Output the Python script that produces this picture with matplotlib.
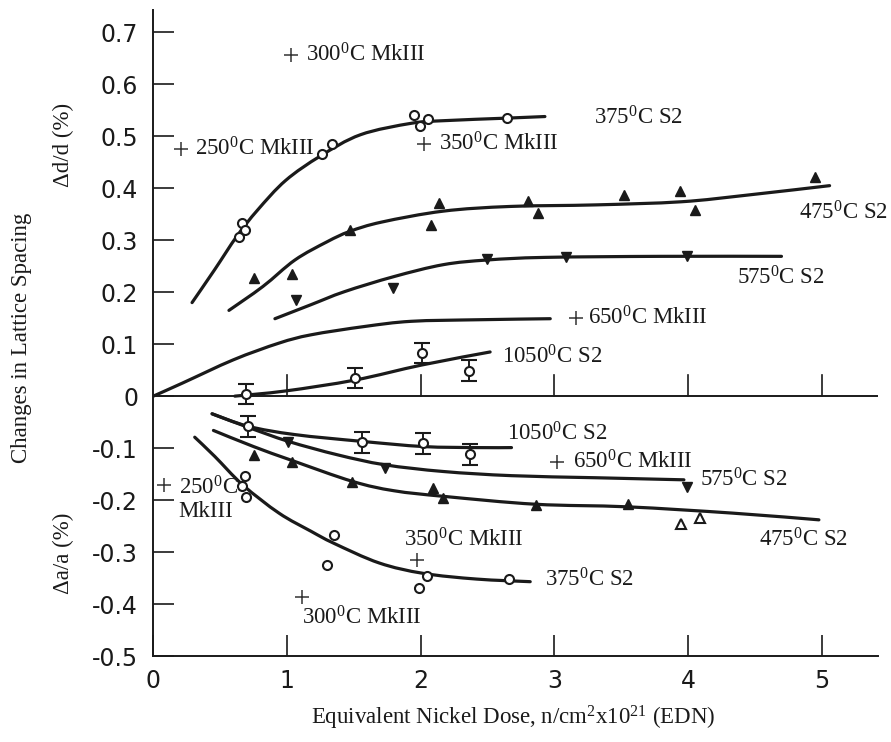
import matplotlib
matplotlib.use('Agg')
import matplotlib.pyplot as plt
from matplotlib.path import Path
from matplotlib.patches import PathPatch
import numpy as np

plt.rcParams['font.family'] = 'Liberation Serif'
plt.rcParams['mathtext.fontset'] = 'custom'
plt.rcParams['mathtext.rm'] = 'Liberation Serif'
plt.rcParams['mathtext.it'] = 'Liberation Serif:italic'

INK = '#1a1a1a'

# ---- measured points, upper panel (delta d / d, %) ----
d375_x = [0.663, 0.639, 0.686, 1.264, 1.34, 1.95, 1.996, 2.057, 2.65]
d375_y = [0.333, 0.307, 0.320, 0.466, 0.485, 0.541, 0.520, 0.533, 0.535]
d475_x = [0.75, 1.04, 1.47, 2.08, 2.14, 2.80, 2.88, 3.52, 3.94, 4.05, 4.95]
d475_y = [0.228, 0.235, 0.320, 0.330, 0.371, 0.376, 0.352, 0.387, 0.394, 0.358, 0.422]
d575_x = [1.07, 1.79, 2.50, 3.09, 3.99]
d575_y = [0.185, 0.209, 0.264, 0.267, 0.269]
d1050_x = [0.694, 1.51, 2.01, 2.36]
d1050_y = [0.004, 0.035, 0.083, 0.049]
d1050_err = [0.02, 0.02, 0.02, 0.02]
d_mk3_x = [0.205, 1.03, 2.025, 3.16]
d_mk3_y = [0.475, 0.657, 0.485, 0.150]

# hand-drawn trend curves, upper panel
c375_x = [0.29, 0.458, 0.626, 0.78, 0.99, 1.25, 1.55, 1.93, 2.17, 2.65, 2.93]
c375_y = [0.180, 0.243, 0.308, 0.358, 0.415, 0.462, 0.503, 0.525, 0.530, 0.535, 0.538]
c475_x = [0.566, 0.82, 1.06, 1.30, 1.47, 1.71, 2.17, 2.67, 3.31, 3.95, 4.45, 5.06]
c475_y = [0.165, 0.211, 0.262, 0.297, 0.317, 0.335, 0.356, 0.365, 0.368, 0.374, 0.387, 0.405]
c575_x = [0.91, 1.18, 1.43, 1.80, 2.17, 2.50, 2.93, 3.80, 4.70]
c575_y = [0.149, 0.176, 0.201, 0.230, 0.253, 0.262, 0.267, 0.269, 0.269]
c650_x = [0.0, 0.217, 0.60, 0.94, 1.18, 1.58, 1.93, 2.43, 2.97]
c650_y = [0.0, 0.025, 0.070, 0.102, 0.118, 0.134, 0.144, 0.147, 0.149]
c1050_x = [0.61, 0.99, 1.51, 2.01, 2.52]
c1050_y = [0.0, 0.010, 0.031, 0.060, 0.085]

# ---- measured points, lower panel (delta a / a, %) ----
a375_x = [0.686, 0.66, 0.69, 1.35, 1.30, 2.045, 1.99, 2.66]
a375_y = [-0.153, -0.173, -0.195, -0.267, -0.325, -0.347, -0.369, -0.352]
a475_x = [0.75, 1.04, 1.49, 2.09, 2.17, 2.86, 3.55]
a475_y = [-0.113, -0.126, -0.165, -0.177, -0.196, -0.209, -0.207]
a475_open_x = [3.95, 4.09]
a475_open_y = [-0.246, -0.235]
a575_x = [1.01, 1.73, 3.99]
a575_y = [-0.089, -0.139, -0.174]
a1050_x = [0.71, 1.56, 2.02, 2.37]
a1050_y = [-0.058, -0.089, -0.091, -0.112]
a1050_err = [0.02, 0.02, 0.02, 0.02]
a_mk3_x = [0.08, 1.11, 1.97, 3.02]
a_mk3_y = [-0.171, -0.387, -0.315, -0.126]

# hand-drawn trend curves, lower panel
e375_x = [0.31, 0.46, 0.67, 0.94, 1.18, 1.35, 1.69, 2.02, 2.42, 2.82]
e375_y = [-0.079, -0.116, -0.171, -0.225, -0.260, -0.283, -0.321, -0.341, -0.352, -0.357]
e475_x = [0.45, 0.75, 1.04, 1.49, 1.80, 2.18, 2.86, 3.55, 4.33, 4.98]
e475_y = [-0.066, -0.097, -0.124, -0.164, -0.182, -0.193, -0.208, -0.213, -0.225, -0.238]
e575_x = [0.44, 0.71, 1.01, 1.38, 1.73, 2.17, 2.68, 3.31, 3.97]
e575_y = [-0.034, -0.060, -0.087, -0.113, -0.132, -0.145, -0.153, -0.157, -0.161]
e1050_x = [0.44, 0.71, 1.06, 1.56, 2.02, 2.42, 2.68]
e1050_y = [-0.034, -0.058, -0.074, -0.087, -0.097, -0.099, -0.099]

# curve labels: (text, x, y)
labels = [
    (r'300$^\mathrm{0}$C MkIII', 1.145, 0.657),
    (r'250$^\mathrm{0}$C MkIII', 0.31, 0.475),
    (r'350$^\mathrm{0}$C MkIII', 2.14, 0.485),
    (r'375$^\mathrm{0}$C S2', 3.30, 0.535),
    (r'475$^\mathrm{0}$C S2', 4.83, 0.352),
    (r'575$^\mathrm{0}$C S2', 4.37, 0.227),
    (r'650$^\mathrm{0}$C MkIII', 3.25, 0.150),
    (r'1050$^\mathrm{0}$C S2', 2.61, 0.076),
    (r'1050$^\mathrm{0}$C S2', 2.65, -0.072),
    (r'650$^\mathrm{0}$C MkIII', 3.14, -0.126),
    (r'575$^\mathrm{0}$C S2', 4.09, -0.161),
    (r'475$^\mathrm{0}$C S2', 4.53, -0.276),
    (r'375$^\mathrm{0}$C S2', 2.93, -0.353),
    (r'250$^\mathrm{0}$C' + '\n' + 'MkIII', 0.19, -0.198),
    (r'350$^\mathrm{0}$C MkIII', 1.876, -0.276),
    (r'300$^\mathrm{0}$C MkIII', 1.11, -0.427),
]

x_ticks = [0, 1, 2, 3, 4, 5]
y_ticks = [-0.5, -0.4, -0.3, -0.2, -0.1, 0, 0.1, 0.2, 0.3, 0.4, 0.5, 0.6, 0.7]


def smooth_path(xs, ys):
    """Catmull-Rom style Bezier path through the knots, so the trend lines draw smooth."""
    pts = np.column_stack([xs, ys])
    verts = [pts[0]]
    codes = [Path.MOVETO]
    n = len(pts)
    for i in range(n - 1):
        p0 = pts[i - 1] if i > 0 else pts[i]
        p1 = pts[i]
        p2 = pts[i + 1]
        p3 = pts[i + 2] if i + 2 < n else pts[i + 1]
        verts += [p1 + (p2 - p0) / 6, p2 - (p3 - p1) / 6, p2]
        codes += [Path.CURVE4] * 3
    return Path(verts, codes)


fig = plt.figure(figsize=(8.91, 7.42), dpi=100)
ax = fig.add_axes([153.3 / 891, 1 - 656 / 742, (877.7 - 153.3) / 891, (656 - 10) / 742])
ax.set_xlim(0, 5.42)
ax.set_ylim(-0.5, 0.743)

for s in ['top', 'right']:
    ax.spines[s].set_visible(False)
for s in ['left', 'bottom']:
    ax.spines[s].set_linewidth(1.4)
    ax.spines[s].set_color(INK)

ax.set_xticks(x_ticks)
ax.set_xticklabels([str(v) for v in x_ticks])
ax.set_yticks(y_ticks)
ax.set_yticklabels(['0' if v == 0 else f'{v:.1f}' for v in y_ticks])
ax.tick_params(axis='both', direction='in', length=15, width=1.2, color=INK,
               labelsize=17, labelcolor=INK)
ax.tick_params(axis='x', pad=9)
ax.tick_params(axis='y', pad=11)
for lab in ax.get_xticklabels() + ax.get_yticklabels():
    lab.set_family('DejaVu Sans')

# zero line with its own upward ticks
ax.axhline(0, color=INK, lw=1.4, zorder=1)
tick_h = 15 * 100 / 72 / 646 * (0.743 + 0.5)
for xv in x_ticks[1:]:
    ax.plot([xv, xv], [0, tick_h], color=INK, lw=1.2, zorder=1)

for cx, cy in [(c375_x, c375_y), (c475_x, c475_y), (c575_x, c575_y), (c650_x, c650_y),
               (c1050_x, c1050_y), (e375_x, e375_y), (e475_x, e475_y), (e575_x, e575_y),
               (e1050_x, e1050_y)]:
    ax.add_patch(PathPatch(smooth_path(cx, cy), fill=False, edgecolor=INK, lw=2.3,
                           capstyle='round', joinstyle='round', zorder=2))

open_o = dict(marker='o', ls='none', ms=6.5, mfc='white', mec=INK, mew=1.5, zorder=3)
ax.plot(d375_x, d375_y, **open_o)
ax.plot(a375_x, a375_y, **open_o)

tri = dict(ls='none', ms=7.5, color=INK, zorder=3)
ax.plot(d475_x, d475_y, marker='^', **tri)
ax.plot(a475_x, a475_y, marker='^', **tri)
ax.plot(d575_x, d575_y, marker='v', **tri)
ax.plot(a575_x, a575_y, marker='v', **tri)
ax.plot(a475_open_x, a475_open_y, marker='^', ls='none', ms=7.5, mfc='white',
        mec=INK, mew=1.5, zorder=3)

eb = dict(fmt='o', ms=6.5, mfc='white', mec=INK, mew=1.5, ecolor=INK,
          elinewidth=1.4, capsize=6, capthick=1.4, zorder=3)
ax.errorbar(d1050_x, d1050_y, yerr=d1050_err, **eb)
ax.errorbar(a1050_x, a1050_y, yerr=a1050_err, **eb)

plus = dict(marker='+', ls='none', ms=10, mew=1.1, color='#333333', zorder=3)
ax.plot(d_mk3_x, d_mk3_y, **plus)
ax.plot(a_mk3_x, a_mk3_y, **plus)

for txt, tx, ty in labels:
    ax.text(tx, ty, txt, fontsize=16.5, color=INK, ha='left', va='center',
            linespacing=1.1, zorder=4)

fig.text(513 / 891, 1 - 718 / 742,
         r'Equivalent Nickel Dose, n/cm$^\mathrm{2}$x10$^\mathrm{21}$ (EDN)',
         fontsize=16.5, color=INK, ha='center', va='center')
fig.text(22 / 891, 1 - 338 / 742, 'Changes in Lattice Spacing', fontsize=16.5,
         color=INK, rotation=90, ha='center', va='center')
fig.text(63 / 891, 1 - 145 / 742, '\u0394d/d (%)', fontsize=16.5, color=INK,
         rotation=90, ha='center', va='center')
fig.text(63 / 891, 1 - 553 / 742, '\u0394a/a (%)', fontsize=16.5, color=INK,
         rotation=90, ha='center', va='center')

fig.savefig('out.png', dpi=100, facecolor='white')
plt.close(fig)
